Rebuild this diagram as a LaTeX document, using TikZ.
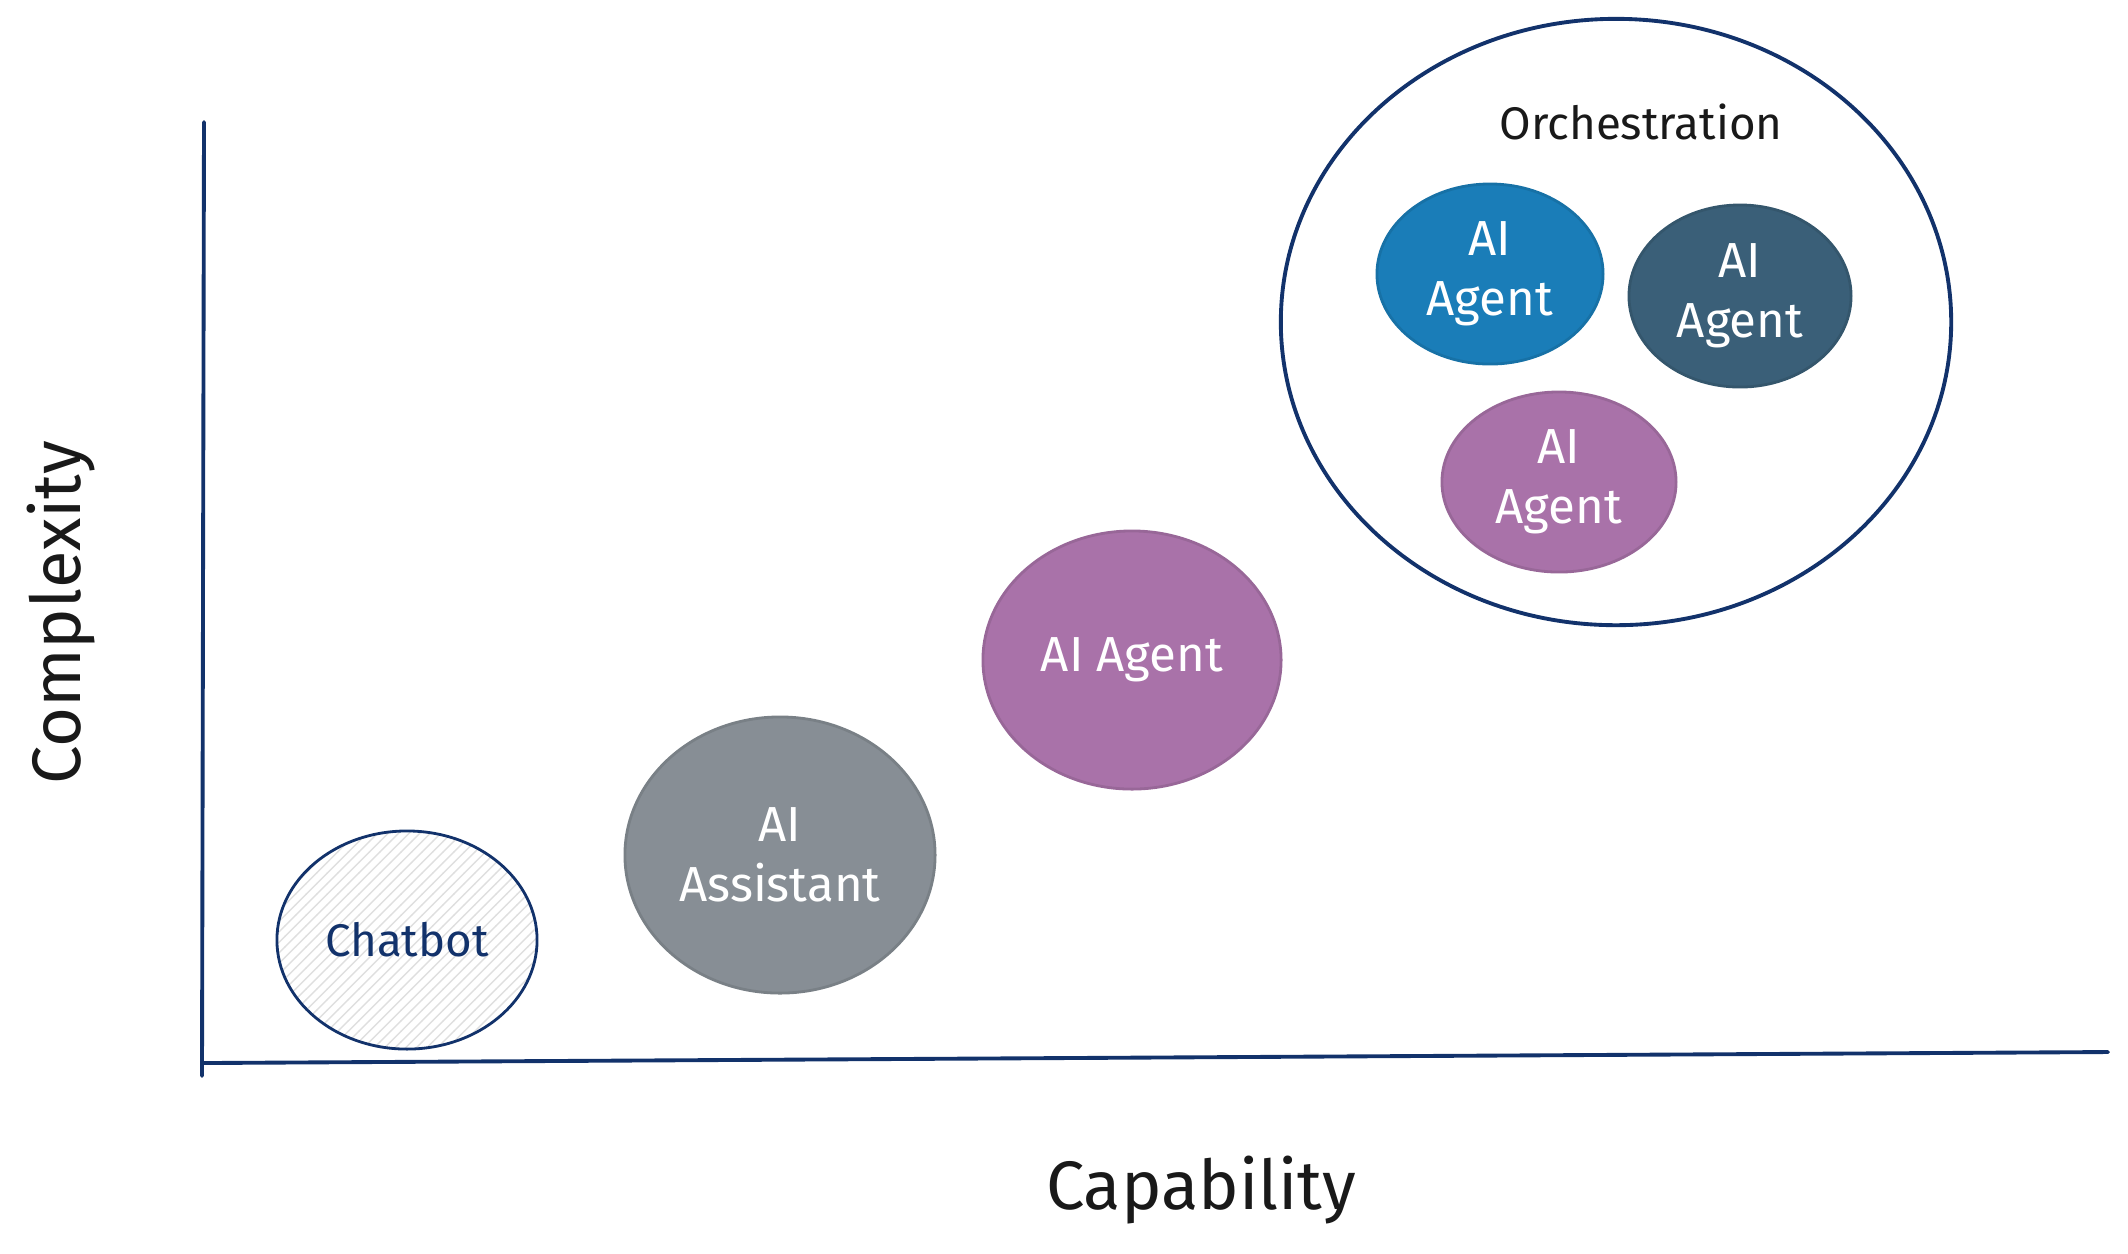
\documentclass[tikz,border=0pt]{standalone}
\usepackage{fontspec}
\setmainfont{Fira Sans}
\usetikzlibrary{shapes.geometric,patterns}
\definecolor{inkblue}{HTML}{12326B}
\definecolor{agentblue}{HTML}{1A7DB8}
\definecolor{agentslate}{HTML}{3A5F78}
\definecolor{agentpurple}{HTML}{A972A9}
\definecolor{assistgray}{HTML}{878E95}

\begin{document}
\begin{tikzpicture}[x=0.01cm,y=-0.01cm,line cap=round,
  axis/.style={inkblue,line width=1.1pt},
  bubble/.style={ellipse,inner sep=0pt,align=center,text=white,
    font=\fontsize{14}{17}\selectfont,line width=0.8pt},
  axislabel/.style={font=\fontsize{19.5}{23}\selectfont,text=black!90}]
\useasboundingbox (0,0) rectangle (2128,1253);

% axes
\coordinate (ytop) at (204,122);
\coordinate (ybot) at (202,1076);
\coordinate (xleft) at (204,1063);
\coordinate (xright) at (2108,1052);
\draw[axis] (ytop) -- (ybot);
\draw[axis] (xleft) -- (xright);
\node[axislabel,rotate=90] (complexity) at (61,613) {Complexity};
\node[axislabel] (capability) at (1201,1190) {Capability};

% stages
\node[bubble,draw=inkblue,pattern=north east lines,pattern color=gray!25,
  text=inkblue,font=\fontsize{13}{16}\selectfont,
  minimum width=2.6cm,minimum height=2.18cm] (chatbot) at (407,940) {Chatbot};
\node[bubble,fill=assistgray,draw=assistgray!90!black,
  minimum width=3.1cm,minimum height=2.76cm] (assistant) at (780,855) {AI\\Assistant};
\node[bubble,fill=agentpurple,draw=agentpurple!90!black,
  minimum width=2.98cm,minimum height=2.58cm] (agent) at (1132,660) {AI Agent};

% orchestration
\node[ellipse,draw=inkblue,line width=1.1pt,minimum width=6.7cm,minimum height=6.06cm]
  (orch) at (1616,322) {};
\node[font=\fontsize{13}{16}\selectfont,text=black!90] (orchlabel) at (1641,122) {Orchestration};
\node[bubble,fill=agentblue,draw=agentblue!90!black,
  minimum width=2.26cm,minimum height=1.8cm] (agenta) at (1490,274) {AI\\Agent};
\node[bubble,fill=agentslate,draw=agentslate!90!black,
  minimum width=2.22cm,minimum height=1.82cm] (agentb) at (1740,296) {AI\\Agent};
\node[bubble,fill=agentpurple,draw=agentpurple!90!black,
  minimum width=2.34cm,minimum height=1.8cm] (agentc) at (1559,482) {AI\\Agent};
\end{tikzpicture}
\end{document}
